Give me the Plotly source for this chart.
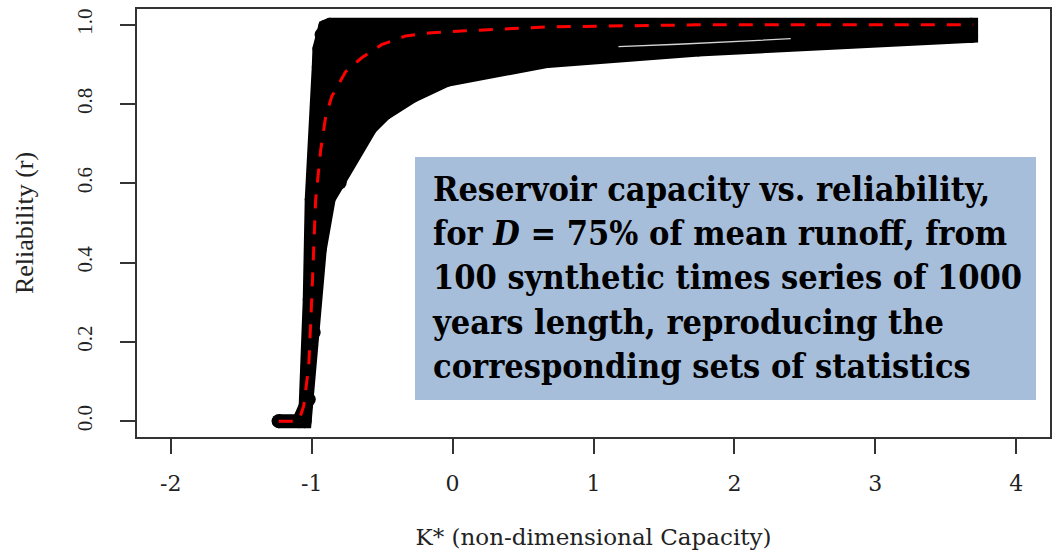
import plotly.graph_objects as go

# ---------------- data ----------------
# upper / left envelope of the cloud of 100 reliability curves
upper_K = [-1.234, -1.09, -1.043, -1.028, -1.014, -1.000, -0.972, -0.957, -0.950, -0.945,
           -0.930, -0.905, -0.870, 3.680]
upper_r = [0.000, 0.000, 0.038, 0.139, 0.307, 0.559, 0.685, 0.811, 0.894, 0.940,
           0.975, 0.995, 1.000, 1.000]

# lower / right envelope of the cloud
lower_K = [-1.234, -1.050, -1.021, -0.986, -0.943, -0.879, -0.801, -0.702, -0.582, -0.482,
           -0.284, -0.043, 0.199, 0.674, 1.745, 2.800, 3.680]
lower_r = [0.000, 0.000, 0.055, 0.224, 0.433, 0.562, 0.602, 0.673, 0.741, 0.776,
           0.821, 0.861, 0.879, 0.909, 0.938, 0.958, 0.972]

# thin gap between the lowest synthetic curve and the others
gap_K = [1.177, 1.600, 2.400]
gap_r = [0.945, 0.951, 0.965]

# mean curve (red dashed)
mean_K = [-1.234, -1.092, -1.057, -1.021, -1.000, -0.972, -0.936, -0.901, -0.858, -0.759,
          -0.645, -0.504, -0.333, -0.149, 0.092, 0.447, 0.681, 1.745, 3.695]
mean_r = [0.000, 0.000, 0.038, 0.139, 0.307, 0.559, 0.685, 0.768, 0.819, 0.882,
          0.917, 0.950, 0.972, 0.980, 0.985, 0.992, 0.995, 1.000, 1.000]

x_ticks = [-2, -1, 0, 1, 2, 3, 4]
x_tick_labels = ["-2", "-1", "0", "1", "2", "3", "4"]
y_ticks = [0.0, 0.2, 0.4, 0.6, 0.8, 1.0]
y_tick_labels = ["0.0", "0.2", "0.4", "0.6", "0.8", "1.0"]

box_lines = [
    "Reservoir capacity vs. reliability,",
    "for <i>D</i> = 75% of mean runoff, from",
    "100 synthetic times series of 1000",
    "years length, reproducing the",
    "corresponding sets of statistics",
]

# ---------------- figure ----------------
band_K = upper_K + lower_K[::-1]
band_r = upper_r + lower_r[::-1]

fig = go.Figure()
fig.add_trace(go.Scatter(
    x=band_K, y=band_r, mode="lines+markers", fill="toself",
    fillcolor="black", line=dict(color="black", width=14),
    marker=dict(color="black", size=14, line=dict(width=0)),
    hoverinfo="skip", showlegend=False,
))
fig.add_trace(go.Scatter(
    x=gap_K, y=gap_r, mode="lines",
    line=dict(color="rgba(235,235,235,0.9)", width=1.3),
    hoverinfo="skip", showlegend=False,
))
fig.add_trace(go.Scatter(
    x=mean_K, y=mean_r, mode="lines",
    line=dict(color="#ff0000", width=3, dash="14px,12px"),
    showlegend=False,
))

W, H = 1052, 550
ml, mr, mt, mb = 137, 2, 9, 113
pw, ph = W - ml - mr, H - mt - mb


def px_x(p):
    return (p - ml) / pw


def px_y(p):
    return (H - mb - p) / ph


axis_common = dict(
    showgrid=False, zeroline=False, showline=True, mirror=True,
    linecolor="#333333", linewidth=1.5, ticks="outside", ticklen=15,
    tickwidth=1.5, tickcolor="#333333",
)

fig.update_layout(
    width=W, height=H,
    margin=dict(l=ml, r=mr, t=mt, b=mb, autoexpand=False),
    paper_bgcolor="white", plot_bgcolor="white",
    xaxis=dict(
        range=[-2.24, 4.24], tickvals=x_ticks, ticktext=x_tick_labels, **axis_common,
        tickfont=dict(family="DejaVu Serif", size=22, color="#222222"),
        ticklabelstandoff=11,
        title=dict(text="K* (non-dimensional Capacity)", standoff=34,
                   font=dict(family="DejaVu Serif", size=23, color="#222222")),
    ),
    yaxis=dict(
        range=[-0.04, 1.04], tickvals=y_ticks, ticktext=y_tick_labels,
        tickangle=-90, **axis_common,
        tickfont=dict(family="Liberation Serif", size=21, color="#222222"),
        ticklabelstandoff=20,
        title=dict(text="Reliability (r)", standoff=32,
                   font=dict(family="Liberation Serif", size=26, color="#222222")),
    ),
    shapes=[dict(
        type="rect", xref="paper", yref="paper",
        x0=px_x(415), x1=px_x(1036), y0=px_y(400), y1=px_y(157),
        fillcolor="#a7bedb", line=dict(width=0), layer="above",
    )],
    annotations=[dict(
        xref="paper", yref="paper", x=px_x(430), y=px_y(167),
        xanchor="left", yanchor="top", align="left", showarrow=False,
        text="<b>" + "<br>".join(box_lines) + "</b>",
        font=dict(family="DejaVu Serif Condensed", size=34, color="black"),
    )],
)

fig.write_html("out.html")
